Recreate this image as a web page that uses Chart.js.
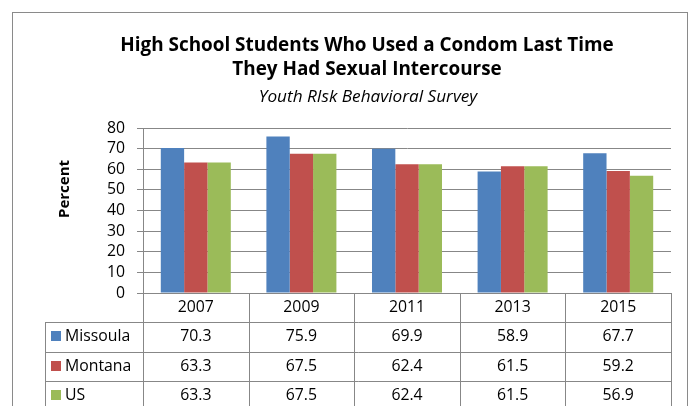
<!DOCTYPE html>
<html>
<head>
<meta charset="utf-8">
<script src="https://cdn.jsdelivr.net/npm/chart.js@4.4.1/dist/chart.umd.min.js"></script>
<style>
  html, body { margin: 0; padding: 0; background: #fff; overflow: hidden; }
  canvas { display: block; }
</style>
</head>
<body>
<canvas id="chart" width="692" height="406"></canvas>
<script>
// Survey years and percentages per group
const years = ['2007', '2009', '2011', '2013', '2015'];
const missoula = [70.3, 75.9, 69.9, 58.9, 67.7];
const montana = [63.3, 67.5, 62.4, 61.5, 59.2];
const us = [63.3, 67.5, 62.4, 61.5, 56.9];
const seriesNames = ['Missoula', 'Montana', 'US'];
const yTicks = [0, 10, 20, 30, 40, 50, 60, 70, 80];

const titleLines = ['High School Students Who Used a Condom Last Time', 'They Had Sexual Intercourse'];
const subtitleText = 'Youth RIsk Behavioral Survey';
const yTitleText = 'Percent';

const FONT = '"Open Sans", sans-serif';
const GRID = '#878787';
const FRAME = '#8a8a8a';
const COLORS = ['#4F81BD', '#C0504D', '#9BBB59'];
const TEXT_SIZE = 15.8;
const ROW_H = 29.3;
const LEGEND_LEFT = 45;

const seriesValues = [missoula, montana, us];

// Frame, headings and the data table under the plot
const framePlugin = {
  id: 'frameAndTable',
  beforeDraw(chart) {
    const ctx = chart.ctx;
    ctx.save();
    ctx.fillStyle = '#fff';
    ctx.fillRect(0, 0, chart.width, chart.height);
    ctx.strokeStyle = FRAME;
    ctx.lineWidth = 1;
    ctx.strokeRect(12.5, 12.5, 675, 440);

    ctx.fillStyle = '#000';
    ctx.textAlign = 'center';
    ctx.textBaseline = 'alphabetic';
    ctx.font = `bold 18.9px ${FONT}`;
    ctx.fillText(titleLines[0], 367, 51);
    ctx.fillText(titleLines[1], 367, 75);
    ctx.font = `italic 17.2px ${FONT}`;
    ctx.fillText(subtitleText, 368, 102);

    ctx.translate(68.5, 189);
    ctx.rotate(-Math.PI / 2);
    ctx.font = `bold 15px ${FONT}`;
    ctx.fillText(yTitleText, 0, 0);
    ctx.restore();
  },
  afterDraw(chart) {
    const ctx = chart.ctx;
    const xs = chart.scales.x;
    const n = years.length;
    const w = xs.getPixelForValue(1) - xs.getPixelForValue(0);
    const x0 = xs.getPixelForValue(0) - w / 2;
    const xEnd = x0 + n * w;
    const top = chart.chartArea.bottom;
    const bottom = chart.height;
    const px = v => Math.round(v) + 0.5;

    ctx.save();
    ctx.strokeStyle = GRID;
    ctx.lineWidth = 1;
    ctx.beginPath();
    for (let i = 0; i <= n; i++) {
      const x = px(x0 + i * w);
      ctx.moveTo(x, top);
      ctx.lineTo(x, bottom);
    }
    for (let r = 1; r <= seriesNames.length; r++) {
      const y = px(top + r * ROW_H);
      ctx.moveTo(LEGEND_LEFT, y);
      ctx.lineTo(px(xEnd), y);
    }
    ctx.moveTo(px(LEGEND_LEFT), px(top + ROW_H));
    ctx.lineTo(px(LEGEND_LEFT), bottom);
    ctx.stroke();

    ctx.font = `${TEXT_SIZE}px ${FONT}`;
    ctx.textBaseline = 'middle';
    ctx.fillStyle = '#000';
    seriesNames.forEach((name, r) => {
      const cy = top + (r + 1) * ROW_H + ROW_H / 2;
      ctx.fillStyle = COLORS[r];
      ctx.fillRect(51, Math.round(cy - 5.5), 10, 10);
      ctx.fillStyle = '#000';
      ctx.textAlign = 'left';
      ctx.fillText(name, 65, cy);
      ctx.textAlign = 'center';
      seriesValues[r].forEach((v, i) => {
        ctx.fillText(v.toFixed(1), xs.getPixelForValue(i), cy);
      });
    });
    ctx.restore();
  }
};

const datasets = seriesNames.map((name, i) => ({
  label: name,
  data: seriesValues[i],
  backgroundColor: COLORS[i],
  borderWidth: 0,
  categoryPercentage: 0.663,
  barPercentage: 1
}));

new Chart(document.getElementById('chart'), {
  type: 'bar',
  data: { labels: years, datasets },
  plugins: [framePlugin],
  options: {
    responsive: false,
    animation: false,
    devicePixelRatio: 1,
    layout: { padding: { left: 0, right: 21, top: 128, bottom: 0 } },
    plugins: {
      legend: { display: false },
      title: { display: false },
      tooltip: { enabled: false }
    },
    scales: {
      x: {
        offset: true,
        grid: { display: true, drawOnChartArea: false, drawTicks: false, offset: true, color: GRID },
        border: { display: true, color: GRID, width: 1 },
        ticks: {
          color: '#000',
          padding: 5,
          maxRotation: 0,
          autoSkip: false,
          font: { family: FONT, size: TEXT_SIZE, lineHeight: 1.2 }
        },
        afterFit(scale) { scale.height = 406 - 293; }
      },
      y: {
        min: 0,
        max: 80,
        afterBuildTicks(scale) { scale.ticks = yTicks.map(v => ({ value: v })); },
        grid: { color: GRID, lineWidth: 1, drawTicks: true, tickLength: 6 },
        border: { display: true, color: GRID, width: 1 },
        ticks: {
          color: '#000',
          padding: 12,
          autoSkip: false,
          font: { family: FONT, size: TEXT_SIZE }
        },
        afterFit(scale) { scale.width = 143; }
      }
    }
  }
});
</script>
</body>
</html>
